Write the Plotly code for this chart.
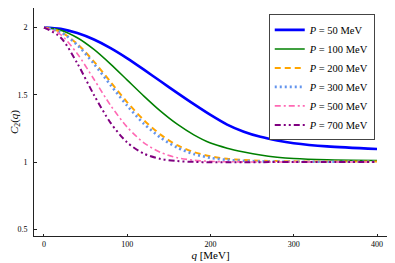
import plotly.graph_objects as go

q = [0, 20, 40, 60, 80, 100, 120, 140, 160, 180, 200, 220, 240, 260, 280, 300, 340, 400]

c_p50 = [2.000, 1.990, 1.959, 1.911, 1.847, 1.771, 1.687, 1.600, 1.514, 1.430, 1.350,
         1.278, 1.225, 1.187, 1.160, 1.140, 1.116, 1.097]
c_p100 = [2.000, 1.980, 1.924, 1.837, 1.728, 1.609, 1.490, 1.378, 1.281, 1.202, 1.141,
          1.103, 1.075, 1.052, 1.036, 1.026, 1.017, 1.012]
c_p200 = [2.000, 1.968, 1.878, 1.747, 1.595, 1.444, 1.311, 1.204, 1.125, 1.074, 1.042,
          1.024, 1.015, 1.010, 1.007, 1.005, 1.004, 1.003]
c_p300 = [2.000, 1.966, 1.870, 1.730, 1.572, 1.418, 1.284, 1.181, 1.107, 1.059, 1.031,
          1.016, 1.009, 1.005, 1.003, 1.002, 1.002, 1.002]
c_p500 = [2.000, 1.947, 1.805, 1.615, 1.421, 1.259, 1.143, 1.071, 1.032, 1.013, 1.005,
          1.002, 1.001, 1.000, 1.000, 1.000, 1.000, 1.000]
c_p700 = [2.000, 1.926, 1.734, 1.499, 1.291, 1.145, 1.062, 1.023, 1.007, 1.001, 0.998,
          0.998, 0.999, 0.999, 1.000, 1.000, 1.000, 1.000]

labels = ["50", "100", "200", "300", "500", "700"]
series = [c_p50, c_p100, c_p200, c_p300, c_p500, c_p700]
colors = ["#0000ff", "#008000", "#ffa500", "#6495ed", "#ff69b4", "#800080"]
dashes = ["solid", "solid", "6px,4px", "2px,3px", "6px,3px,2px,3px", "6px,3px,2px,3px,2px,3px"]
widths = [2.6, 1.5, 2.0, 2.6, 1.6, 2.0]

xticks = [0, 100, 200, 300, 400]
yticks = [0.5, 1, 1.5, 2]
yticklabels = ["0.5", "1", "1.5", "2"]

FONT = "Liberation Serif"

fig = go.Figure()
for lab, ys, col, d, w in zip(labels, series, colors, dashes, widths):
    fig.add_trace(go.Scatter(
        x=q, y=ys, mode="lines",
        line=dict(color=col, width=w, dash=d, shape="spline", smoothing=0.8),
        name=f"<i>P</i> = {lab} MeV",
    ))

# page body has an 8px default margin, so the figure is sized to fit the window
fig.update_layout(
    width=387, height=255,
    margin=dict(l=26, r=8, t=0, b=27),
    paper_bgcolor="white", plot_bgcolor="white",
    font=dict(family=FONT, color="black", size=10),
    showlegend=True,
    legend=dict(
        x=0.665, y=0.972, xanchor="left", yanchor="top",
        bordercolor="#444444", borderwidth=1, bgcolor="white",
        font=dict(family=FONT, size=10.5),
        itemwidth=30, tracegroupgap=0,
    ),
)
fig.update_xaxes(
    range=[-12, 412], tickvals=xticks, ticktext=[str(t) for t in xticks],
    showgrid=False, zeroline=False, showline=True, linecolor="#222222", linewidth=1,
    ticks="inside", ticklen=2, tickcolor="#222222",
    tickfont=dict(size=8, family=FONT),
    title=dict(text="<i>q</i> [MeV]", font=dict(size=11, family=FONT), standoff=0),
    automargin=False,
)
fig.update_yaxes(
    range=[0.45, 2.145], tickvals=yticks, ticktext=yticklabels,
    showgrid=False, zeroline=False, showline=True, linecolor="#222222", linewidth=1,
    ticks="inside", ticklen=3, tickcolor="#222222",
    tickfont=dict(size=8, family=FONT), ticklabelstandoff=4,
    title=dict(text="<i>C</i><sub>2</sub>(<i>q</i>)", font=dict(size=11, family=FONT), standoff=2),
    automargin=False,
)

fig.write_html("out.html")
